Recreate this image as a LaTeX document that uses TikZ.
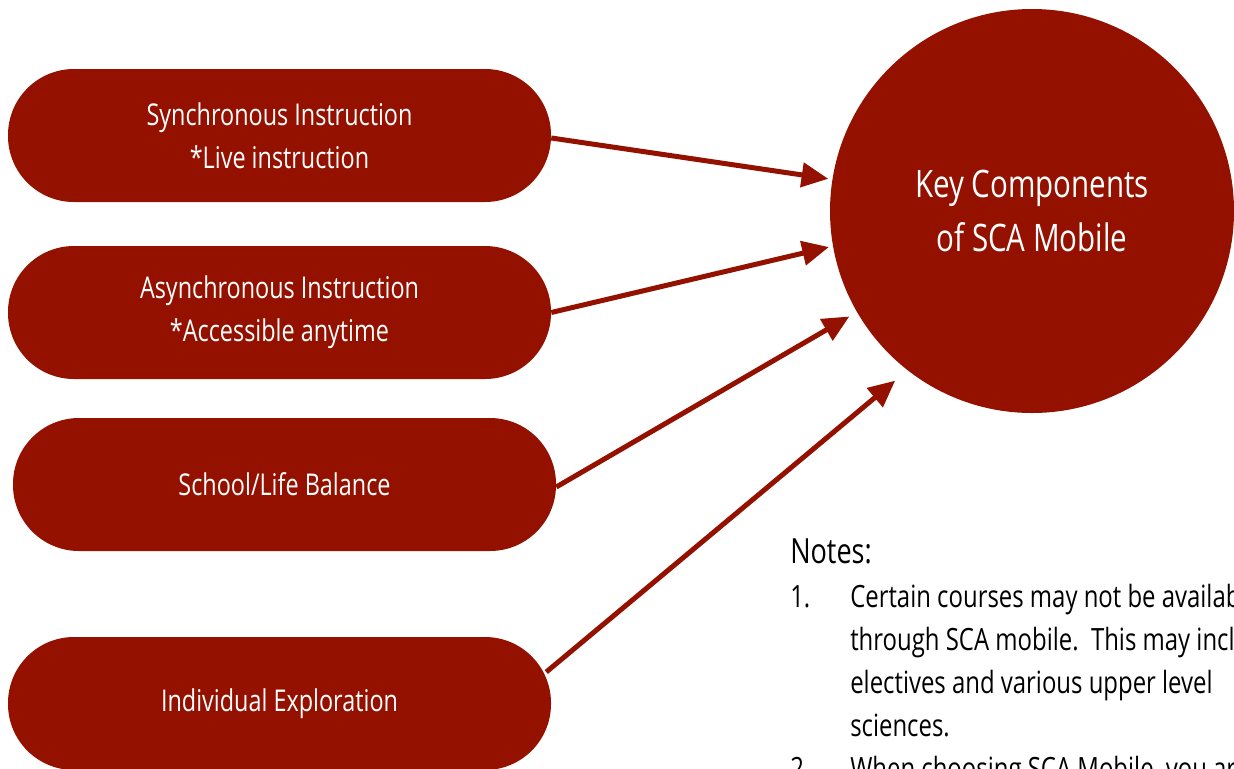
\documentclass[tikz,border=0pt]{standalone}
\usepackage{fontspec}
\setmainfont{Open Sans}[FakeStretch=0.78]
\usetikzlibrary{arrows.meta,calc}
\definecolor{sca}{RGB}{148,17,0}
\begin{document}
\begin{tikzpicture}[x=0.75pt,y=-0.75pt,
  pill/.style={fill=sca, rounded corners=49.5pt, minimum width=407.25pt, minimum height=99.75pt,
    text=white, font=\fontsize{22.5}{32}\selectfont, align=center, inner sep=0pt},
  hub/.style={circle, fill=sca, minimum size=303pt, inner sep=0pt, text=white, align=center,
    font=\fontsize{28.4}{40}\selectfont},
  link/.style={draw=sca, line width=3.75pt, -{Triangle[length=20pt,width=18pt]}},
  notehead/.style={anchor=base west, inner sep=0pt, font=\fontsize{26}{34}\selectfont},
  noteline/.style={anchor=base west, inner sep=0pt, font=\fontsize{23}{32}\selectfont},
]
\useasboundingbox (0,0) rectangle (1234,768);
\clip (0,0) rectangle (1234,768);

\node[pill] (b1) at (279.5,135.5) {Synchronous Instruction\\*Live instruction};
\node[pill] (b2) at (279.5,312.5) {Asynchronous Instruction\\*Accessible anytime};
\node[pill] (b3) at (284.5,484.5) {School/Life Balance};
\node[pill] (b4) at (279.5,703.5) {Individual Exploration};

\node[hub] (hub) at (1032,211) {Key Components\\of SCA Mobile};

\draw[link, shorten >=3pt] ($(b1.east)+(0,2.5)$) -- (hub.171);
\draw[link, shorten >=3pt] (b2.east) -- (hub.190.7);
\draw[link, shorten >=6.5pt] ($(b3.east)+(0,2.5)$) -- (hub.210.2);
\draw[link, shorten >=12pt] ($(b4.east)+(-5,-31.5)$) -- (hub.232.1);

\node[notehead] (nt) at (790,563) {Notes:};
\node[noteline] (n1num) at (790,607) {1.};
\node[noteline] (n1a) at (850,607) {Certain courses may not be available};
\node[noteline] (n1b) at (850,650) {through SCA mobile.\ \ This may include};
\node[noteline] (n1c) at (850,693) {electives and various upper level};
\node[noteline] (n1d) at (850,736) {sciences.};
\node[noteline] (n2num) at (790,779) {2.};
\node[noteline] (n2a) at (850,779) {When choosing SCA Mobile, you are};
\end{tikzpicture}
\end{document}
